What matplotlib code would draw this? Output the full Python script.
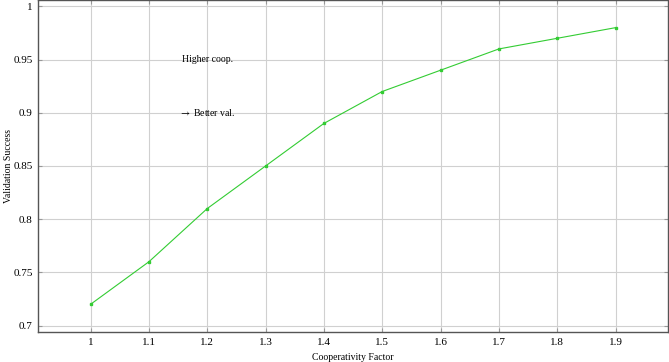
import matplotlib
matplotlib.use("Agg")
from matplotlib import pyplot as plt

coop = [1.0, 1.1, 1.2, 1.3, 1.4, 1.5, 1.6, 1.7, 1.8, 1.9]
success = [0.72, 0.76, 0.81, 0.85, 0.89, 0.92, 0.94, 0.96, 0.97, 0.98]
xticks = [1.0, 1.1, 1.2, 1.3, 1.4, 1.5, 1.6, 1.7, 1.8, 1.9]
xlabels = ['1', '1.1', '1.2', '1.3', '1.4', '1.5', '1.6', '1.7', '1.8', '1.9']
yticks = [0.7, 0.75, 0.8, 0.85, 0.9, 0.95, 1.0]
ylabels = ['0.7', '0.75', '0.8', '0.85', '0.9', '0.95', '1']

plt.rcParams['font.family'] = ['Liberation Serif', 'DejaVu Serif']
plt.rcParams['mathtext.fontset'] = 'stix'
plt.rcParams['font.size'] = 8

fig = plt.figure(figsize=(6.69, 3.62), dpi=100)
ax = fig.add_axes([0.057, 0.083, 0.9415, 0.917])

ax.plot(coop, success, color='#33cc33', lw=0.8, marker='s', ms=1.8, zorder=3)

ax.set_xlim(0.91, 1.99)
ax.set_ylim(0.694, 1.006)
ax.set_xticks(xticks)
ax.set_xticklabels(xlabels)
ax.set_yticks(yticks)
ax.set_yticklabels(ylabels)
ax.grid(True, color='#d0d0d0', lw=0.8)
ax.set_axisbelow(True)
ax.tick_params(direction='in', length=3, color='#999999', top=True, right=True,
               pad=4, labelsize=8)
for s in ax.spines.values():
    s.set_color('#555555')
    s.set_linewidth(1.0)

ax.text(1.2, 0.95, 'Higher coop.', ha='center', va='center', fontsize=7)
ax.text(1.2, 0.9, r'$\rightarrow$ Better val.', ha='center', va='center', fontsize=7)

ax.set_xlabel('Cooperativity Factor', fontsize=7, labelpad=5)
ax.set_ylabel('Validation Success', fontsize=7, labelpad=0)

fig.savefig('out.png', dpi=100)
